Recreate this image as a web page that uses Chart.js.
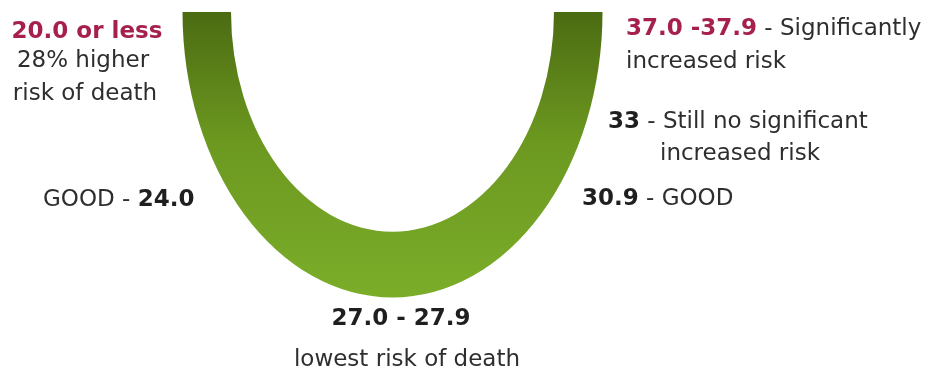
<!DOCTYPE html>
<html>
<head>
<meta charset="utf-8">
<script src="https://cdn.jsdelivr.net/npm/chart.js@4.4.0/dist/chart.umd.min.js"></script>
<style>
  html, body { margin: 0; padding: 0; background: #fff; }
  canvas { display: block; }
</style>
</head>
<body>
<canvas id="riskChart" width="932" height="369"></canvas>
<script>
// BMI vs. risk of death, drawn as a U shaped half ring
const categories = ['BMI']
const ringValues = [100]

const rangeLabels = ['20.0 or less', '24.0', '27.0 - 27.9', '30.9', '33', '37.0 -37.9']
const rangeNotes = [
  ['28% higher', 'risk of death'],
  ['GOOD'],
  ['lowest risk of death'],
  ['GOOD'],
  ['Still no significant', 'increased risk'],
  ['Significantly', 'increased risk'],
]

const stretchY = 1.36
const FONT = '"DejaVu Sans", sans-serif'
const regular = '23px ' + FONT
const bold = 'bold 23px ' + FONT
const dark = '#2e2e2e'
const darker = '#1f1f1f'
const red = '#a6204d'

// draw a line made of [text, font, color] runs
function drawRuns(ctx, runs, x, y, align) {
  let total = 0
  runs.forEach(r => { ctx.font = r[1]; total += ctx.measureText(r[0]).width })
  let cx = align === 'center' ? x - total / 2 : x
  runs.forEach(r => {
    ctx.font = r[1]
    ctx.fillStyle = r[2]
    ctx.fillText(r[0], cx, y)
    cx += ctx.measureText(r[0]).width
  })
}

function drawNotes(ctx) {
  ctx.save()
  ctx.textAlign = 'left'
  ctx.textBaseline = 'alphabetic'

  drawRuns(ctx, [[rangeLabels[0], bold, red]], 87, 38, 'center')
  drawRuns(ctx, [[rangeNotes[0][0], regular, dark]], 83, 67, 'center')
  drawRuns(ctx, [[rangeNotes[0][1], regular, dark]], 85, 100, 'center')

  drawRuns(ctx, [[rangeNotes[1][0] + ' - ', regular, dark], [rangeLabels[1], bold, darker]], 43, 206, 'left')

  drawRuns(ctx, [[rangeLabels[2], bold, darker]], 401, 325, 'center')
  drawRuns(ctx, [[rangeNotes[2][0], regular, dark]], 407, 366, 'center')

  drawRuns(ctx, [[rangeLabels[3], bold, darker], [' - ' + rangeNotes[3][0], regular, dark]], 582, 205, 'left')

  drawRuns(ctx, [[rangeLabels[4], bold, darker], [' - ' + rangeNotes[4][0], regular, dark]], 608, 128, 'left')
  drawRuns(ctx, [[rangeNotes[4][1], regular, dark]], 660, 160, 'left')

  drawRuns(ctx, [[rangeLabels[5], bold, red], [' - ' + rangeNotes[5][0], regular, dark]], 626, 35, 'left')
  drawRuns(ctx, [[rangeNotes[5][1], regular, dark]], 626, 68, 'left')
  ctx.restore()
}

// stretch the half ring vertically around its centre
const ovalRing = {
  id: 'ovalRing',
  beforeDatasetsDraw(chart) {
    const arc = chart.getDatasetMeta(0).data[0]
    const ctx = chart.ctx
    ctx.save()
    ctx.translate(arc.x, arc.y)
    ctx.scale(1, stretchY)
    ctx.translate(-arc.x, -arc.y)
  },
  afterDatasetsDraw(chart) {
    chart.ctx.restore()
  },
  afterDraw(chart) {
    drawNotes(chart.ctx)
  },
}

new Chart(document.getElementById('riskChart').getContext('2d'), {
  type: 'doughnut',
  data: {
    labels: categories,
    datasets: [
      {
        data: ringValues,
        borderWidth: 0,
        backgroundColor(c) {
          const area = c.chart.chartArea
          if (!area) return '#6e9a22'
          const g = c.chart.ctx.createLinearGradient(0, area.top, 0, area.bottom)
          g.addColorStop(0, '#4b6b12')
          g.addColorStop(0.45, '#6c9820')
          g.addColorStop(1, '#7bad29')
          return g
        },
      },
    ],
  },
  plugins: [ovalRing],
  options: {
    responsive: false,
    animation: false,
    rotation: 90,
    circumference: 180,
    cutout: '76.9%',
    layout: { padding: { left: 182.5, right: 329.5, top: 12, bottom: 147 } },
    plugins: {
      legend: { display: false },
      tooltip: { enabled: false },
    },
  },
})
</script>
</body>
</html>
